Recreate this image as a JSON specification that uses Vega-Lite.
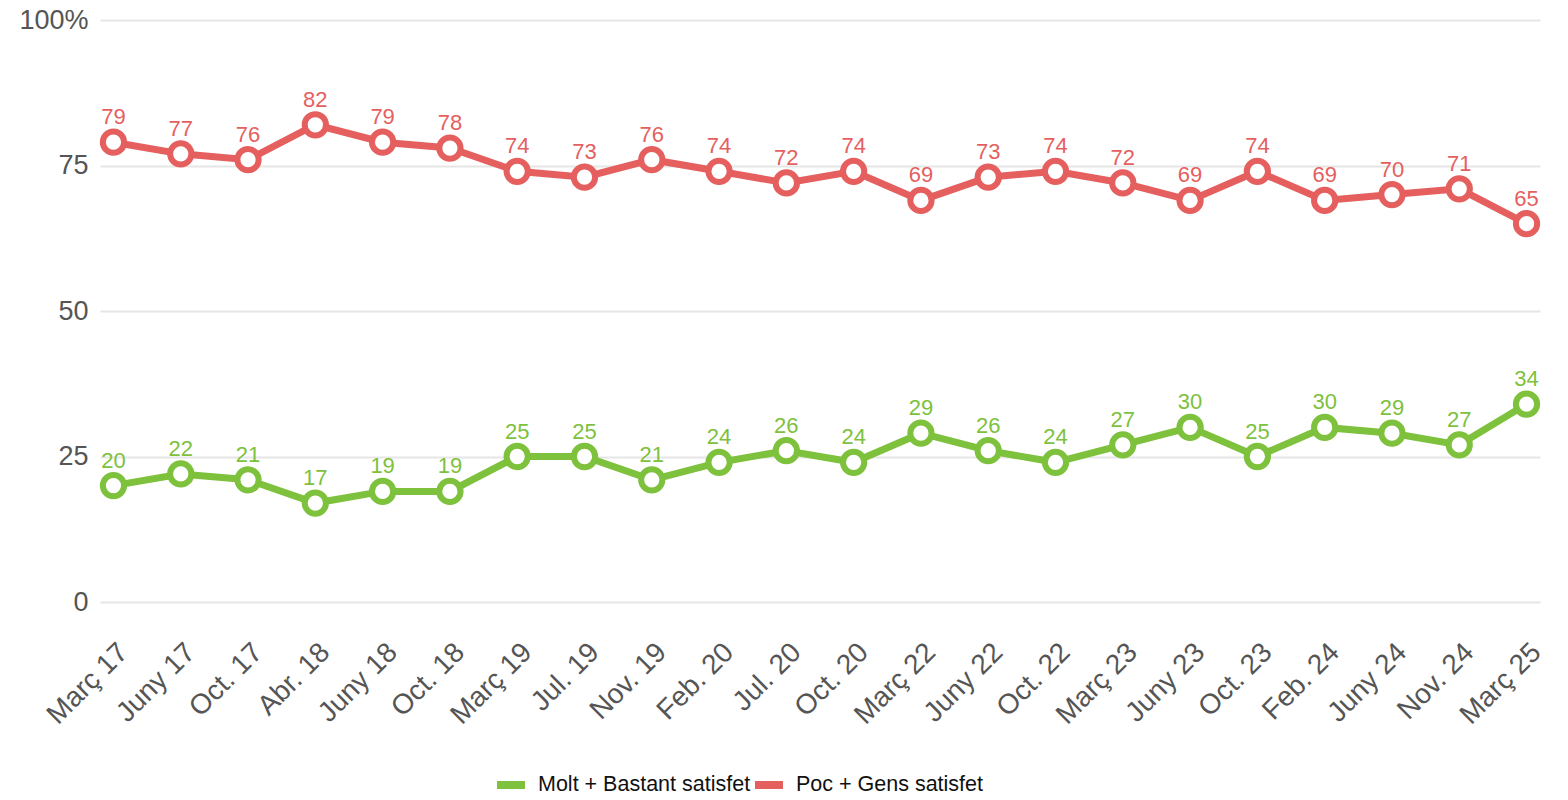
{
  "$schema": "https://vega.github.io/schema/vega-lite/v6.json",
  "width": 1440,
  "height": 582,
  "autosize": {"type": "none"},
  "padding": {"left": 100, "top": 20, "right": 28, "bottom": 198},
  "background": "white",
  "config": {"view": {"stroke": null}, "font": "Liberation Sans"},
  "data": {"values": [
    {"periode": "Març 17", "serie": "Molt + Bastant satisfet", "valor": 20},
    {"periode": "Març 17", "serie": "Poc + Gens satisfet", "valor": 79},
    {"periode": "Juny 17", "serie": "Molt + Bastant satisfet", "valor": 22},
    {"periode": "Juny 17", "serie": "Poc + Gens satisfet", "valor": 77},
    {"periode": "Oct. 17", "serie": "Molt + Bastant satisfet", "valor": 21},
    {"periode": "Oct. 17", "serie": "Poc + Gens satisfet", "valor": 76},
    {"periode": "Abr. 18", "serie": "Molt + Bastant satisfet", "valor": 17},
    {"periode": "Abr. 18", "serie": "Poc + Gens satisfet", "valor": 82},
    {"periode": "Juny 18", "serie": "Molt + Bastant satisfet", "valor": 19},
    {"periode": "Juny 18", "serie": "Poc + Gens satisfet", "valor": 79},
    {"periode": "Oct. 18", "serie": "Molt + Bastant satisfet", "valor": 19},
    {"periode": "Oct. 18", "serie": "Poc + Gens satisfet", "valor": 78},
    {"periode": "Març 19", "serie": "Molt + Bastant satisfet", "valor": 25},
    {"periode": "Març 19", "serie": "Poc + Gens satisfet", "valor": 74},
    {"periode": "Jul. 19", "serie": "Molt + Bastant satisfet", "valor": 25},
    {"periode": "Jul. 19", "serie": "Poc + Gens satisfet", "valor": 73},
    {"periode": "Nov. 19", "serie": "Molt + Bastant satisfet", "valor": 21},
    {"periode": "Nov. 19", "serie": "Poc + Gens satisfet", "valor": 76},
    {"periode": "Feb. 20", "serie": "Molt + Bastant satisfet", "valor": 24},
    {"periode": "Feb. 20", "serie": "Poc + Gens satisfet", "valor": 74},
    {"periode": "Jul. 20", "serie": "Molt + Bastant satisfet", "valor": 26},
    {"periode": "Jul. 20", "serie": "Poc + Gens satisfet", "valor": 72},
    {"periode": "Oct. 20", "serie": "Molt + Bastant satisfet", "valor": 24},
    {"periode": "Oct. 20", "serie": "Poc + Gens satisfet", "valor": 74},
    {"periode": "Març 22", "serie": "Molt + Bastant satisfet", "valor": 29},
    {"periode": "Març 22", "serie": "Poc + Gens satisfet", "valor": 69},
    {"periode": "Juny 22", "serie": "Molt + Bastant satisfet", "valor": 26},
    {"periode": "Juny 22", "serie": "Poc + Gens satisfet", "valor": 73},
    {"periode": "Oct. 22", "serie": "Molt + Bastant satisfet", "valor": 24},
    {"periode": "Oct. 22", "serie": "Poc + Gens satisfet", "valor": 74},
    {"periode": "Març 23", "serie": "Molt + Bastant satisfet", "valor": 27},
    {"periode": "Març 23", "serie": "Poc + Gens satisfet", "valor": 72},
    {"periode": "Juny 23", "serie": "Molt + Bastant satisfet", "valor": 30},
    {"periode": "Juny 23", "serie": "Poc + Gens satisfet", "valor": 69},
    {"periode": "Oct. 23", "serie": "Molt + Bastant satisfet", "valor": 25},
    {"periode": "Oct. 23", "serie": "Poc + Gens satisfet", "valor": 74},
    {"periode": "Feb. 24", "serie": "Molt + Bastant satisfet", "valor": 30},
    {"periode": "Feb. 24", "serie": "Poc + Gens satisfet", "valor": 69},
    {"periode": "Juny 24", "serie": "Molt + Bastant satisfet", "valor": 29},
    {"periode": "Juny 24", "serie": "Poc + Gens satisfet", "valor": 70},
    {"periode": "Nov. 24", "serie": "Molt + Bastant satisfet", "valor": 27},
    {"periode": "Nov. 24", "serie": "Poc + Gens satisfet", "valor": 71},
    {"periode": "Març 25", "serie": "Molt + Bastant satisfet", "valor": 34},
    {"periode": "Març 25", "serie": "Poc + Gens satisfet", "valor": 65}
  ]},
  "encoding": {
    "x": {
      "field": "periode", "type": "ordinal", "sort": null,
      "scale": {"type": "point", "padding": 0.2},
      "axis": {"title": null, "labelAngle": -45, "labelFontSize": 28, "labelColor": "#555555", "ticks": false, "domain": false, "grid": false, "labelPadding": 36}
    },
    "y": {
      "field": "valor", "type": "quantitative",
      "scale": {"domain": [0, 100], "nice": false, "zero": true},
      "axis": {"title": null, "values": [0, 25, 50, 75, 100], "labelExpr": "datum.value == 100 ? '100%' : datum.label", "labelFontSize": 27, "labelColor": "#555555", "ticks": false, "domain": false, "grid": true, "gridColor": "#e6e6e6", "gridWidth": 2, "labelPadding": 12}
    },
    "color": {
      "field": "serie", "type": "nominal",
      "scale": {"domain": ["Molt + Bastant satisfet", "Poc + Gens satisfet"], "range": ["#7dc13c", "#e55f5f"]},
      "legend": {"title": null, "orient": "none", "legendX": 393, "legendY": 747, "direction": "horizontal", "labelFontSize": 21.5, "labelLimit": 0, "labelColor": "#111111", "symbolType": "stroke", "symbolSize": 784, "symbolStrokeWidth": 8, "columnPadding": -15, "labelOffset": 9}
    }
  },
  "layer": [
    {"mark": {"type": "line", "strokeWidth": 7}},
    {"mark": {"type": "point", "shape": "circle", "filled": false, "fill": "white", "size": 452, "strokeWidth": 6, "opacity": 1}},
    {"mark": {"type": "text", "baseline": "alphabetic", "dy": -18, "fontSize": 22}, "encoding": {"text": {"field": "valor", "type": "quantitative"}}}
  ]
}
